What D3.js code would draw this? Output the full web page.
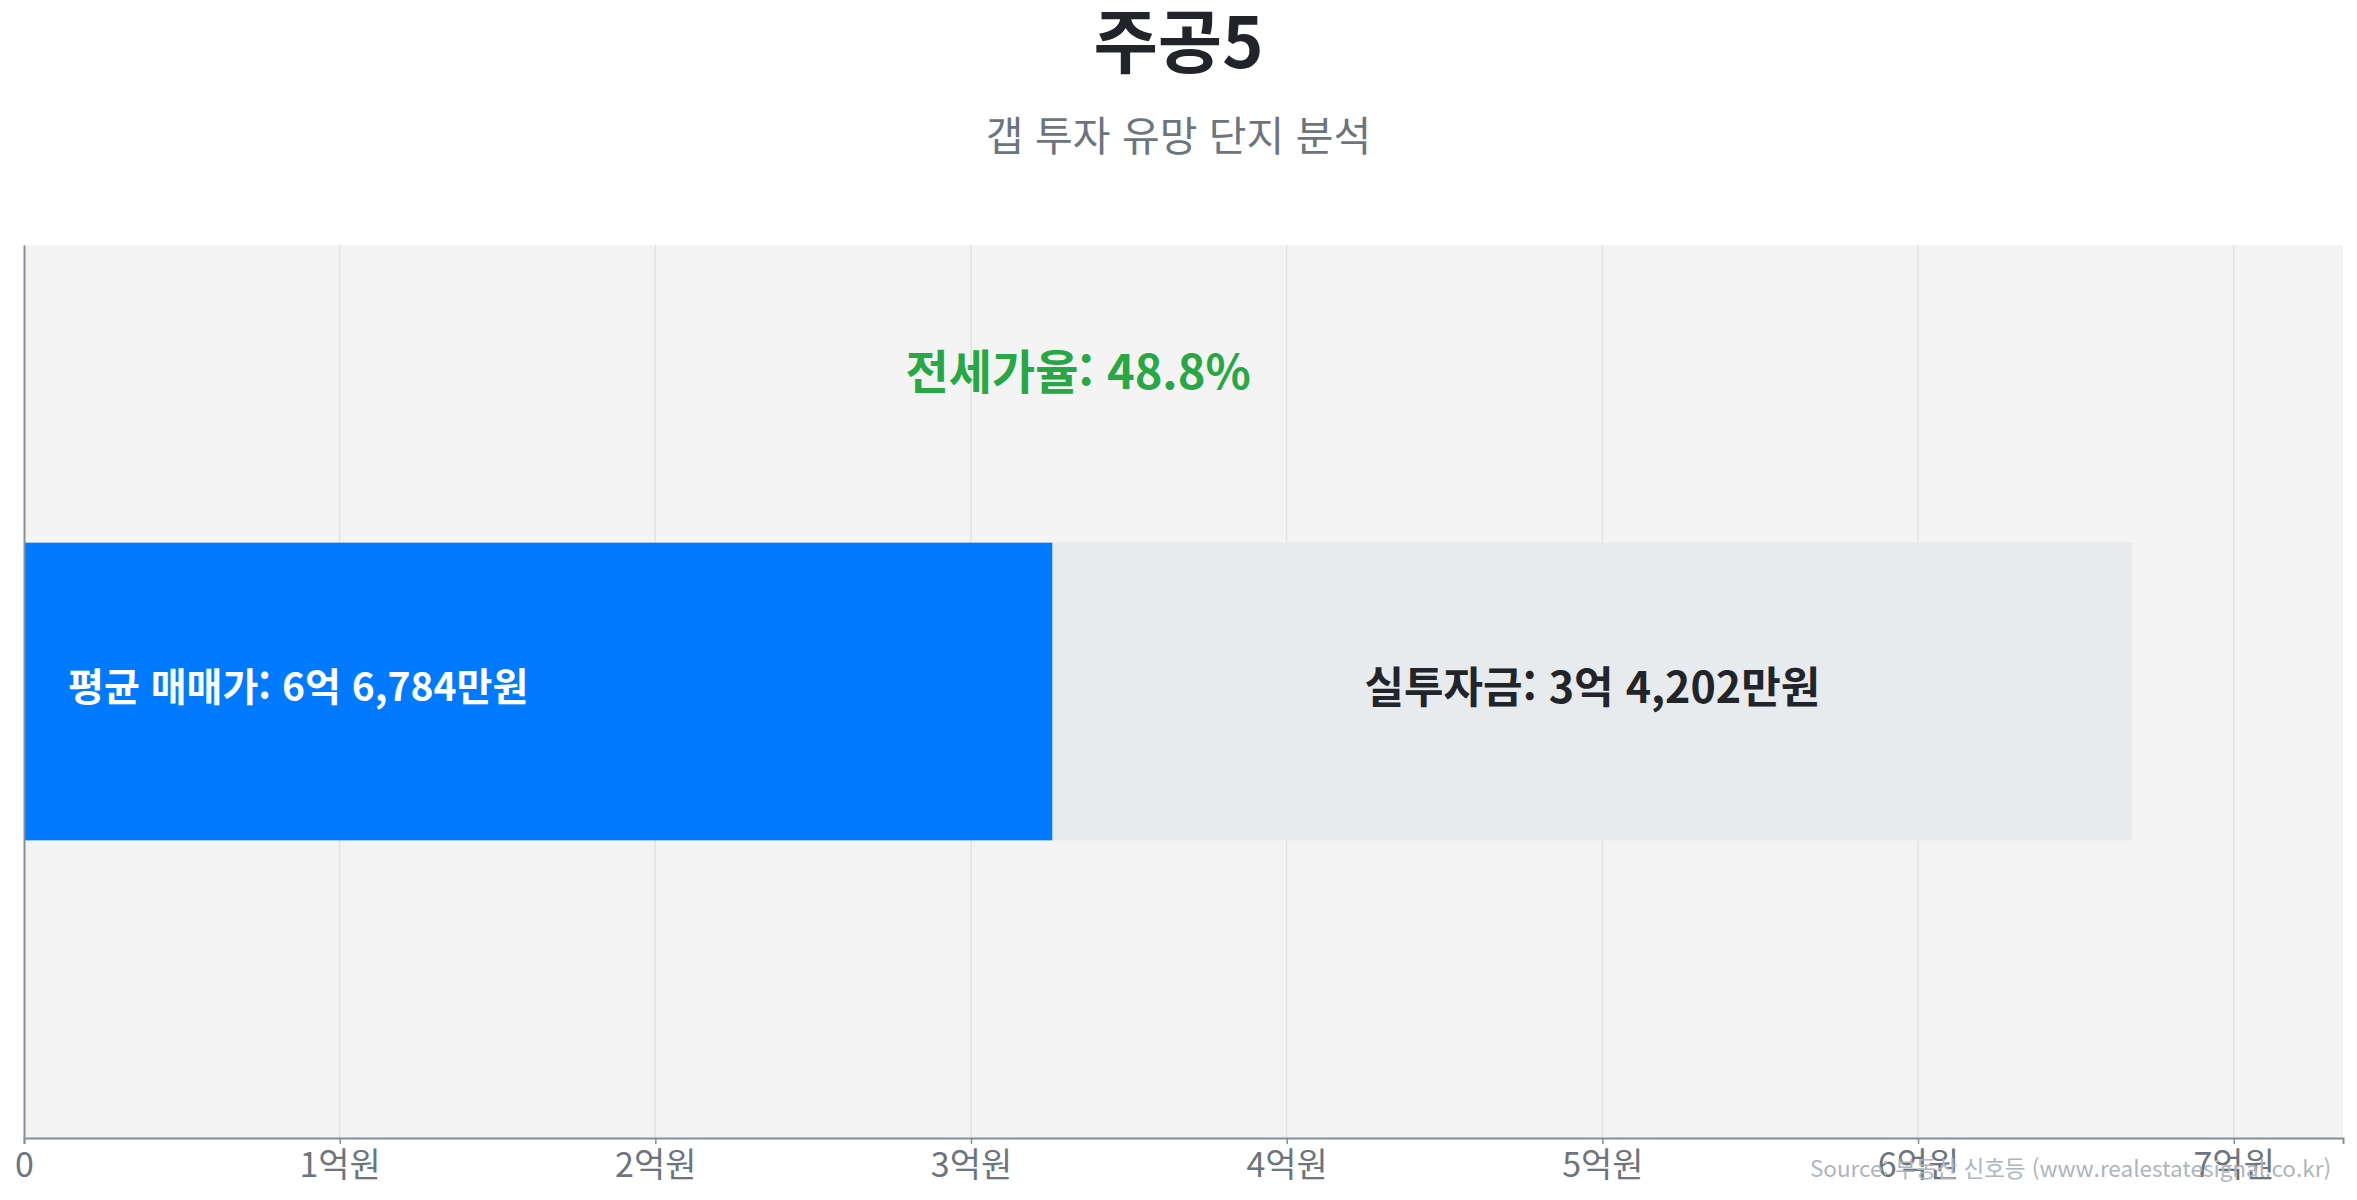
<!DOCTYPE html>
<html lang="ko">
<head>
<meta charset="utf-8">
<script src="https://cdn.jsdelivr.net/npm/d3@7"></script>
<style>
  body { margin: 0; background: #fff; }
  svg { display: block; font-family: "Noto Sans CJK KR", "Noto Sans", sans-serif; }
</style>
</head>
<body>
<script>
    // chart values (만원)
    var titleText = "주공5";
    var subtitleText = "갭 투자 유망 단지 분석";
    var sourceText = "Source: 부동산 신호등 (www.realestatesignal.co.kr)";
    var categories = ["주공5"];
    var salePrice = [66784];
    var jeonsePrice = [32582];
    var investAmount = [34202];
    var jeonseRatio = [48.8];
    var xTickValues = [0, 10000, 20000, 30000, 40000, 50000, 60000, 70000];

    var W = 2357, H = 1200;
    var margin = {top: 245, right: 14, bottom: 62, left: 24},
    width = W - margin.left - margin.right,
    height = H - margin.top - margin.bottom;

    function won(v) {
      var eok = Math.floor(v / 10000), man = v % 10000;
      return eok + "억 " + d3.format(",")(man) + "만원";
    }

    var x = d3.scaleLinear()
      .domain([0, d3.max(salePrice) * 1.1])
      .range([0, width]);
    var y = d3.scaleBand()
      .domain(categories)
      .range([0, height])
      .padding(0.5);

    var svg = d3.select("body").append("svg")
      .attr("width", W)
      .attr("height", H);

    //title + subtitle
    svg.append("text")
      .attr("x", W / 2).attr("y", 68)
      .attr("text-anchor", "middle")
      .style("font-size", "70px").style("font-weight", "700")
      .style("fill", "#212529")
      .text(titleText);
    svg.append("text")
      .attr("x", W / 2).attr("y", 151)
      .attr("text-anchor", "middle")
      .style("font-size", "41px")
      .style("fill", "#6c757d")
      .text(subtitleText);

    var g = svg.append("g")
      .attr("transform", "translate(" + margin.left + "," + margin.top + ")");

    //plot background
    g.append("rect")
      .attr("width", width).attr("height", height)
      .attr("fill", "#f4f4f4");

    //grid lines
    g.append("g").selectAll("line")
      .data(xTickValues.slice(1))
      .enter().append("line")
      .attr("x1", function(d) { return x(d); })
      .attr("x2", function(d) { return x(d); })
      .attr("y1", 0).attr("y2", height)
      .attr("stroke", "#e3e3e3").attr("stroke-width", 1.5);

    //bars: jeonse part + investment part
    g.selectAll(".bar-jeonse")
      .data(categories)
      .enter().append("rect")
      .attr("class", "bar-jeonse")
      .attr("x", x(0))
      .attr("y", function(d) { return y(d); })
      .attr("width", function(d, i) { return x(jeonsePrice[i]) - x(0); })
      .attr("height", y.bandwidth())
      .attr("fill", "#007bff");
    g.selectAll(".bar-invest")
      .data(categories)
      .enter().append("rect")
      .attr("class", "bar-invest")
      .attr("x", function(d, i) { return x(jeonsePrice[i]); })
      .attr("y", function(d) { return y(d); })
      .attr("width", function(d, i) { return x(jeonsePrice[i] + investAmount[i]) - x(jeonsePrice[i]); })
      .attr("height", y.bandwidth())
      .attr("fill", "#e8ebee");

    //bar labels
    g.selectAll(".lbl-sale")
      .data(categories)
      .enter().append("text")
      .attr("x", x(0) + 44)
      .attr("y", function(d) { return y(d) + y.bandwidth() / 2 - 4; })
      .attr("dy", "0.35em")
      .style("font-size", "39px").style("font-weight", "700")
      .style("fill", "#fff")
      .text(function(d, i) { return "평균 매매가: " + won(salePrice[i]); });
    g.selectAll(".lbl-invest")
      .data(categories)
      .enter().append("text")
      .attr("x", function(d, i) { return (x(jeonsePrice[i]) + x(jeonsePrice[i] + investAmount[i])) / 2; })
      .attr("y", function(d) { return y(d) + y.bandwidth() / 2 - 4; })
      .attr("dy", "0.35em")
      .attr("text-anchor", "middle")
      .style("font-size", "43px").style("font-weight", "700")
      .style("fill", "#212529")
      .text(function(d, i) { return "실투자금: " + won(investAmount[i]); });

    //jeonse ratio annotation
    g.selectAll(".lbl-ratio")
      .data(categories)
      .enter().append("text")
      .attr("x", function(d, i) { return x(salePrice[i] / 2); })
      .attr("y", function(d) { return y(d) / 2 - 21; })
      .attr("dy", "0.35em")
      .attr("text-anchor", "middle")
      .style("font-size", "47px").style("font-weight", "700")
      .style("fill", "#28a745")
      .text(function(d, i) { return "전세가율: " + jeonseRatio[i] + "%"; });

    //X axis
    var xAxis = g.append("g")
      .attr("transform", "translate(0," + height + ")")
      .call(d3.axisBottom(x)
        .tickValues(xTickValues)
        .tickSize(6)
        .tickPadding(9)
        .tickFormat(function(d) { return d === 0 ? "0" : (d / 10000) + "억원"; }));
    xAxis.select(".domain").attr("stroke", "#868e96").attr("stroke-width", 2);
    xAxis.selectAll(".tick line").attr("stroke", "#868e96").attr("stroke-width", 1.5);
    xAxis.selectAll(".tick text")
      .style("font-size", "34px").style("fill", "#6c757d")
      .style("font-family", "\"Noto Sans CJK KR\", sans-serif");

    //Y axis (line only)
    var yAxis = g.append("g")
      .call(d3.axisLeft(y).tickSize(0).tickFormat(""));
    yAxis.select(".domain").attr("stroke", "#868e96").attr("stroke-width", 2);

    //source
    svg.append("text")
      .attr("x", W - 26).attr("y", 1177)
      .attr("text-anchor", "end")
      .style("font-size", "22.5px")
      .style("fill", "#adb5bd")
      .text(sourceText);
</script>
</body>
</html>
